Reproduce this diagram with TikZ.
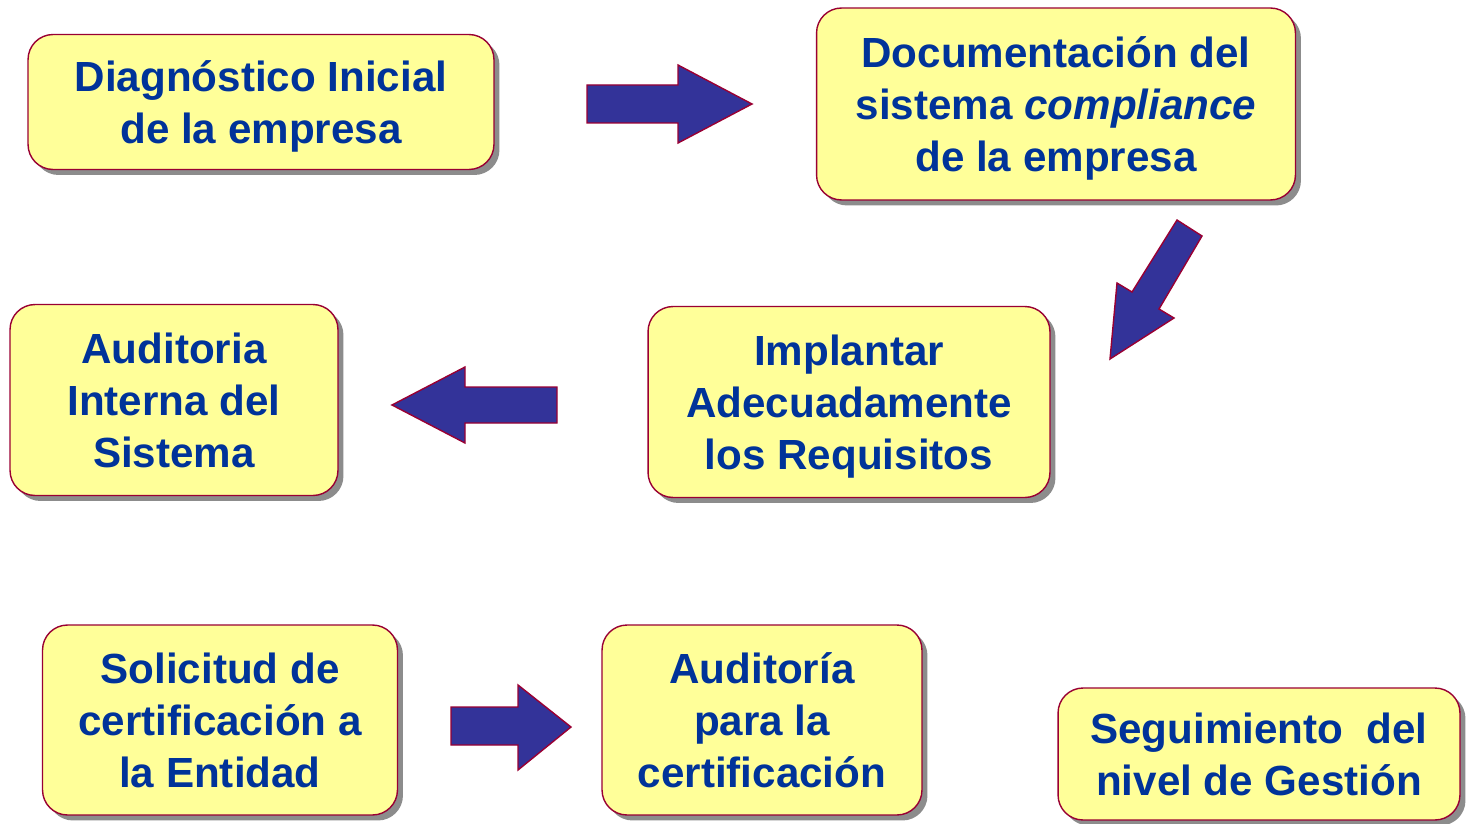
\documentclass[tikz,border=0pt]{standalone}
\usepackage{fontspec}
\setmainfont{Liberation Sans}
\usetikzlibrary{positioning,shadows}
\definecolor{boxfill}{HTML}{FFFF99}
\definecolor{boxline}{HTML}{990033}
\definecolor{boxtext}{HTML}{003399}
\definecolor{arrowfill}{HTML}{333399}
\tikzset{
  stage/.style     = {rectangle,draw=boxline,fill=boxfill,thick,rounded corners=0.5cm,align=center,
                      text=boxtext,font=\fontsize{24}{29.5}\selectfont\bfseries,text depth=-2pt,
                      drop shadow={shadow xshift=0.11cm,shadow yshift=-0.11cm,fill=black!45,opacity=1}},
  bigarrow/.style  = {draw=boxline,fill=arrowfill,thick,line join=miter},
}

\begin{document}
\begin{tikzpicture}[x=0.02cm,y=-0.02cm]
\useasboundingbox (0,0) rectangle (1466,824);
\node[stage,minimum width=9.32cm,minimum height=2.7cm]  (diag)  at (261,102)  {Diagnóstico Inicial\\de la empresa};
\node[stage,minimum width=9.58cm,minimum height=3.84cm] (docu)  at (1056,104) {Documentación del\\sistema \textit{compliance}\\de la empresa};
\node[stage,minimum width=8.04cm,minimum height=3.82cm] (impl)  at (849,402)  {Implantar\\Adecuadamente\\los Requisitos};
\node[stage,minimum width=6.56cm,minimum height=3.82cm] (audint) at (174,400) {Auditoria\\Interna del\\Sistema};
\node[stage,minimum width=7.1cm,minimum height=3.8cm]   (solic) at (220,720)  {Solicitud de\\certificación a\\la Entidad};
\node[stage,minimum width=6.4cm,minimum height=3.8cm]   (audcert) at (762,720) {Auditoría\\para la\\certificación};
\node[stage,minimum width=8.04cm,minimum height=2.64cm] (segui) at (1259,754) {Seguimiento\ \ del\\nivel de Gestión};
% block arrows between the stages
\draw[bigarrow] (587,85) -- (678,85) -- (678,65) -- (752,104) -- (678,143) -- (678,123) -- (587,123) -- cycle;
\draw[bigarrow] (1177,220) -- (1202,236) -- (1159,309) -- (1174,318) -- (1110,359) -- (1117,283) -- (1132,292) -- cycle;
\draw[bigarrow] (557,387) -- (465,387) -- (465,367) -- (392,405) -- (465,443) -- (465,423) -- (557,423) -- cycle;
\draw[bigarrow] (451,707) -- (518,707) -- (518,685) -- (571,727) -- (518,770) -- (518,745) -- (451,745) -- cycle;
\end{tikzpicture}
\end{document}
